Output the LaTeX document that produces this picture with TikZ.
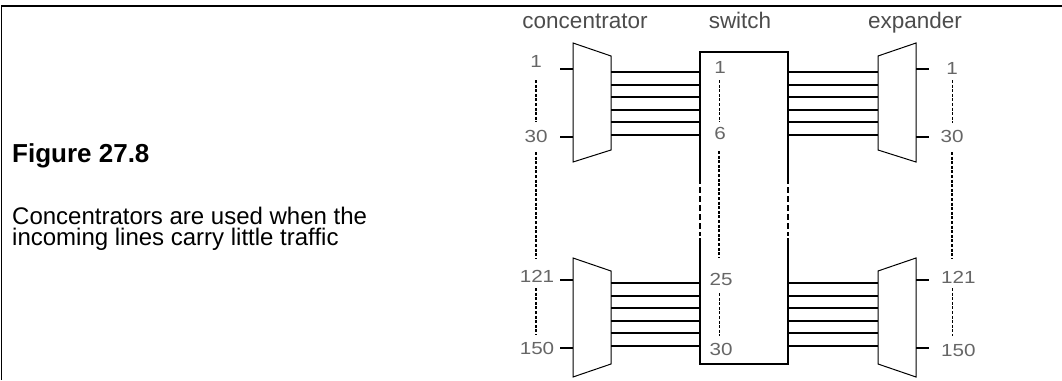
\documentclass[tikz,border=0pt]{standalone}
\usepackage{fontspec}
\setmainfont{Liberation Sans}
\newfontfamily\numfont[FakeStretch=1.18]{Liberation Sans}
\begin{document}
\begin{tikzpicture}[x=1pt,y=-1pt,
  frameline/.style={line width=1.3pt},
  unitbox/.style={line width=1pt},
  trunk/.style={line width=2pt},
  tickline/.style={line width=2pt},
  thickdash/.style={line width=1.3pt, dash pattern=on 3pt off 1.6pt},
  thindash/.style={line width=0.7pt, dash pattern=on 3pt off 1.6pt},
  edgedash/.style={line width=1.5pt, dash pattern=on 6pt off 3pt},
  switchedge/.style={line width=1.4pt},
  head/.style={font=\fontsize{22.5}{22.5}\selectfont, text=black!70, inner sep=0, anchor=base},
  num/.style={font=\numfont\fontsize{17.5}{17.5}\selectfont, text=black!60, inner sep=0, anchor=base},
  txt/.style={inner sep=0, anchor=base west}]
\useasboundingbox (0,0) rectangle (1062,380);
% frame
\draw[frameline] (1.5,380) -- (1.5,6) -- (1062,6);
% left text
\node[txt, font=\bfseries\fontsize{26}{26}\selectfont] (fig) at (12,162) {Figure 27.8};
\node[txt, align=left, font=\fontsize{24}{21.5}\selectfont] (cap) at (12,245.5)
  {Concentrators are used when the\\incoming lines carry little traffic};
% headings
\node[head] (hconc) at (585,28) {concentrator};
\node[head] (hsw) at (740,28) {switch};
\node[head] (hexp) at (915,28) {expander};
% concentrators
\draw[unitbox] (573,43) -- (611,56) -- (611,150) -- (573,162) -- cycle;
\draw[unitbox] (573,258) -- (611,271) -- (611,364) -- (573,377) -- cycle;
% expanders
\draw[unitbox] (878,56) -- (916,43) -- (916,162) -- (878,150) -- cycle;
\draw[unitbox] (878,271) -- (916,258) -- (916,377) -- (878,364) -- cycle;
% input/output ticks
\foreach \y in {69,137,280,348} {
  \draw[tickline] (560,\y) -- (573,\y);
  \draw[tickline] (916,\y) -- (929,\y);
}
% trunks
\foreach \i in {0,...,5} {
  \draw[trunk] (611,72+12.6*\i) -- (700,72+12.6*\i);
  \draw[trunk] (788,72+12.6*\i) -- (878,72+12.6*\i);
  \draw[trunk] (611,283+12.6*\i) -- (700,283+12.6*\i);
  \draw[trunk] (788,283+12.6*\i) -- (878,283+12.6*\i);
}
% switch box
\draw[switchedge] (700,178) -- (700,52) -- (788,52) -- (788,178);
\draw[switchedge] (700,238) -- (700,364) -- (788,364) -- (788,238);
\draw[edgedash] (700,178) -- (700,236);
\draw[edgedash] (788,178) -- (788,236);
% labels
\node[num] (l1) at (536,67) {1};
\node[num] (l30) at (536,142) {30};
\node[num] (l121) at (537,282) {121};
\node[num] (l150) at (537,354) {150};
\node[num] (s1) at (720,73) {1};
\node[num] (s6) at (720,139) {6};
\node[num] (s25) at (721,285) {25};
\node[num] (s30) at (721,355) {30};
\node[num] (r1) at (952,74) {1};
\node[num] (r30) at (952,142) {30};
\node[num, anchor=base west] (r121) at (941,283) {121};
\node[num, anchor=base west] (r150) at (941,356) {150};
% dashed continuation lines
\draw[thickdash] (536,80) -- (536,122);
\draw[thickdash] (536,152) -- (536,258);
\draw[thickdash] (536,288) -- (536,335);
\draw[thindash] (719,80) -- (719,122);
\draw[thickdash] (719,151) -- (719,258);
\draw[thindash] (719,293) -- (719,336);
\draw[thindash] (952,80) -- (952,123);
\draw[thickdash] (952,152) -- (952,259);
\draw[thindash] (952,288) -- (952,336);
\end{tikzpicture}
\end{document}
